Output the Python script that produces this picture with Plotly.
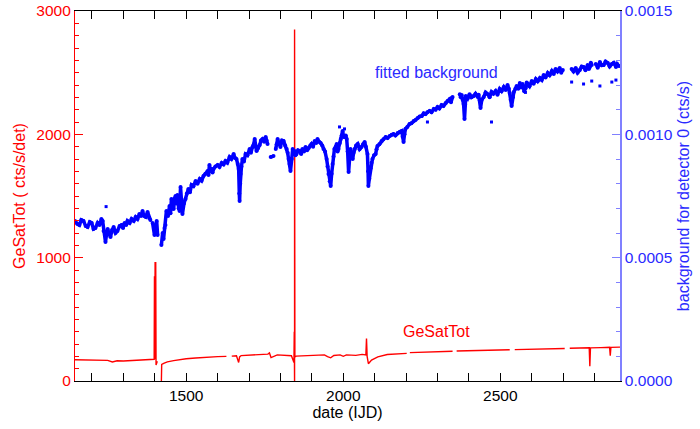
import plotly.graph_objects as go

# ---------------- data ----------------
# fitted background (right axis, cts/s): (date IJD, value); None marks a gap
bg_points = [
    (1146, .000649), (1153, .000637), (1160, .000632), (1166, .000653), (1173, .000649), (1180, .000628),
    (1186, .000624), (1193, .000645), (1199, .000641), (1205, .000616), (1211, .000620), (1218, .000641),
    (1224, .000632), (1230, .000657), (1234, .000649), (1237, .000608), (1243, .000564), (1247, .000600),
    (1250, .000616), (1255, .000596), (1259, .000584), (1264, .000612), (1269, .000624), (1275, .000600),
    (1281, .000608), (1288, .000628), (1294, .000632), (1299, .000620), (1304, .000641), (1309, .000632),
    (1313, .000649), (1320, .000641), (1326, .000657), (1333, .000649), (1339, .000665), (1345, .000657),
    (1351, .000677), (1356, .000669), (1361, .000689), (1366, .000669), (1371, .000665), (1377, .000685),
    (1382, .000661), (1386, .000653), None,
    (1393, .000641), (1399, .000592), (1406, .000649), (1409, .000592), None,
    (1421, .000551), (1425, .000600), (1428, .000576), (1431, .000620), (1434, .000632), (1437, .000689),
    (1442, .000669), (1447, .000709), (1450, .000680), (1453, .000738), (1457, .000700), (1460, .000697),
    (1463, .000740), (1466, .000750), (1469, .000720), (1472, .000754), (1476, .000700), (1479, .000689),
    (1482, .000786), (1485, .000720), (1488, .000677), (1493, .000720), (1498, .000738), (1502, .000760),
    (1507, .000778), (1512, .000765), (1517, .000795), (1523, .000790), (1530, .000811), (1536, .000800),
    (1543, .000819), (1549, .000812), (1555, .000831), (1561, .000840), (1568, .000851), (1571, .000835),
    (1574, .000876), (1578, .000850), (1581, .000859), (1584, .000845), (1587, .000859), (1593, .000870),
    (1600, .000876), (1606, .000868), (1613, .000884), (1619, .000878), (1625, .000892), (1631, .000885),
    (1638, .000908), (1644, .000900), (1651, .000920), (1655, .000905), (1660, .000900), (1664, .000880),
    (1667, .000859), (1669, .000760), (1670, .000730), (1672, .000800), (1673, .000839), (1676, .000870),
    (1679, .000900), (1684, .000890), (1689, .000920), (1695, .000915), (1702, .000941), (1706, .000925),
    (1711, .000949), (1715, .000960), (1718, .000981), (1721, .000950), (1724, .000932), (1729, .000945),
    (1734, .000957), (1738, .000975), (1743, .000981), (1748, .000970), (1753, .000989), (1756, .000975),
    (1759, .000961), None,
    (1769, .000908), (1778, .000912), None,
    (1785, .000941), (1788, .000960), (1791, .000981), (1795, .000965), (1800, .000949), (1805, .000975),
    (1810, .000973), (1815, .000955), (1820, .000941), (1823, .000925), (1826, .000900), (1829, .000880),
    (1832, .000851), (1836, .000900), (1839, .000941), (1842, .000925), (1845, .000932), (1848, .000915),
    (1851, .000920), (1856, .000935), (1861, .000932), (1866, .000920), (1870, .000941), (1875, .000930),
    (1880, .000949), (1885, .000935), (1890, .000945), (1895, .000955), (1899, .000961), (1904, .000950),
    (1909, .000973), (1914, .000965), (1918, .000981), (1923, .000970), (1928, .000965), (1933, .000955),
    (1937, .000941), (1942, .000930), (1947, .000900), (1950, .000870), (1953, .000839), (1957, .000810),
    (1960, .000791), (1963, .000840), (1966, .000880), (1969, .000910), (1972, .000941), (1976, .000950),
    (1979, .000961), (1982, .000930), (1985, .000941), (1989, .000965), (1992, .000981), (1995, .000995),
    (1998, .001014), (2001, .000990), (2004, .000989), (2008, .000995), (2011, .000981), (2014, .000930),
    (2017, .000847), (2020, .000900), (2023, .000941), (2027, .000915), (2030, .000900), (2033, .000925),
    (2036, .000941), (2041, .000955), (2046, .000961), (2052, .000940), (2058, .000949), (2063, .000960),
    (2068, .000969), (2072, .000950), (2077, .000920), (2079, .000850), (2080, .000791), (2083, .000820),
    (2087, .000863), (2090, .000885), (2093, .000900), (2098, .000915), (2103, .000920), (2106, .000940),
    (2109, .000953), (2115, .000960), (2122, .000973), (2128, .000980), (2135, .000989), (2141, .000985),
    (2148, .000993), (2154, .000998), (2160, .001001), (2166, .000995), (2173, .001005), (2180, .001010),
    (2186, .001014), (2189, .000990), (2192, .000969), (2195, .001000), (2198, .001022), (2204, .001030),
    (2211, .001042), (2217, .001045), (2224, .001054), (2230, .001058), (2237, .001066), (2243, .001072),
    (2250, .001074), (2256, .001085), (2262, .001082), (2268, .001090), (2275, .001095), (2281, .001090),
    (2288, .001103), (2294, .001100), (2300, .001111), (2306, .001105), (2313, .001119), (2319, .001115),
    (2326, .001127), (2332, .001135), (2339, .001143), (2343, .001130), (2348, .001151), None,
    (2371, .001163), (2374, .001150), (2377, .001159), (2380, .001140), (2383, .001123), (2386, .001062),
    (2388, .001120), (2390, .001155), (2396, .001145), (2402, .001163), (2408, .001150), (2415, .001155),
    (2421, .001165), (2428, .001151), (2431, .001160), (2434, .001139), (2437, .001107), (2441, .001140),
    (2447, .001151), (2453, .001170), (2460, .001163), (2466, .001150), (2472, .001172), (2478, .001165),
    (2485, .001176), (2491, .001160), (2498, .001184), (2504, .001175), (2511, .001192), (2517, .001180),
    (2523, .001200), (2527, .001185), (2530, .001168), (2533, .001140), (2536, .001115), (2540, .001150),
    (2543, .001172), (2548, .001185), (2552, .001196), (2557, .001185), (2562, .001208), (2566, .001190),
    (2571, .001204), (2576, .001175), (2581, .001188), (2584, .001210), (2587, .001204), (2593, .001195),
    (2600, .001216), (2606, .001205), (2613, .001224), (2619, .001215), (2626, .001228), (2632, .001220),
    (2638, .001241), (2644, .001230), (2651, .001249), (2657, .001240), (2664, .001257), (2670, .001245),
    (2676, .001265), (2682, .001255), (2689, .001269), (2694, .001250), (2699, .001261), None,
    (2727, .001265), (2733, .001255), (2740, .001269), (2746, .001250), (2753, .001261), (2759, .001275),
    (2765, .001273), (2771, .001260), (2778, .001281), (2782, .001265), (2785, .001273), (2788, .001290),
    (2791, .001281), None,
    (2804, .001285), (2810, .001270), (2817, .001293), (2823, .001280), (2829, .001281), (2835, .001295),
    (2842, .001289), (2848, .001275), (2855, .001285), (2861, .001290), (2868, .001273), (2872, .001285),
    (2877, .001277),
]

# isolated background points
bg_out_date = [1245, 1988, 2004, 2268, 2472, 2580, 2727, 2765, 2791, 2817, 2855, 2868]
bg_out_value = [0.000707, 0.001030, 0.001022, 0.001050, 0.001050, 0.001170, 0.001212, 0.001204,
                0.001216, 0.001196, 0.001212, 0.001220]

# GeSatTot (left axis, cts/s/det)
ge_date = [1146, 1170, 1200, 1215, 1230, 1250, 1265, 1280, 1300, 1330, 1360, 1390, 1396,
           1398, 1399, 1400, 1401, 1403, 1404, 1408, None,
           1421, 1422, 1430, 1440, 1460, 1480, 1500, 1530, 1560, 1600, 1628, None,
           1645, 1660, 1667, 1670, 1675, 1700, 1730, 1760, 1765, 1770, 1790, 1820, 1835,
           1843, 1844, 1845, 1845, 1846, 1850, 1880, 1910, 1940, 1950, 1960, 1970, 1990,
           2000, 2010, 2040, 2060, 2072, 2074, 2076, 2080, 2090, 2110, 2140, 2170, 2202, None,
           2212, 2260, 2300, 2348, None,
           2361, 2400, 2450, 2500, 2530, None,
           2546, 2600, 2650, 2705, None,
           2721, 2760, 2783, 2785, 2787, 2820, 2848, 2850, 2852, 2881]
ge_value = [172, 170, 169, 164, 167, 167, 154, 164, 162, 166, 169, 174, 176,
            176, 850, 176, 960, 960, 130, 160, None,
            0, 135, 145, 155, 165, 175, 180, 186, 193, 198, 200, None,
            202, 204, 150, 195, 206, 208, 215, 218, 228, 190, 212, 210, 205,
            150, 400, 0, 2850, 195, 202, 204, 207, 212, 198, 188, 207, 212,
            200, 212, 208, 216, 212, 345, 200, 140, 170, 196, 215, 220, 224, None,
            230, 234, 238, 241, None,
            243, 245, 248, 251, 253, None,
            254, 258, 261, 264, None,
            266, 268, 269, 120, 269, 271, 273, 205, 273, 275]

x_range = [1146, 2881]
y_left_range = [0, 3000]
y_right_range = [0, 0.0015]
x_ticks = [1500, 2000, 2500]
y_left_ticks = [0, 1000, 2000, 3000]
y_right_ticks = [0.0, 0.0005, 0.0010, 0.0015]

bg_date = [p[0] if p else None for p in bg_points]
bg_value = [p[1] if p else None for p in bg_points]

RED = "#ff0000"
BLUE = "#0000ff"
BLUE_TXT = "#2a2aff"
BLUE_AX = "#8080ff"
FONT = "Liberation Sans, Arial, sans-serif"
TICK_SIZE = 15.5
TITLE_SIZE = 16

fig = go.Figure()
fig.add_trace(go.Scatter(x=ge_date, y=ge_value, mode="lines",
                         line=dict(color=RED, width=1.4), yaxis="y", showlegend=False,
                         connectgaps=False))
fig.add_trace(go.Scatter(x=bg_date, y=bg_value, mode="lines+markers",
                         line=dict(color=BLUE, width=3.5), marker=dict(color=BLUE, size=4),
                         yaxis="y2", showlegend=False, connectgaps=False))
fig.add_trace(go.Scatter(x=bg_out_date, y=bg_out_value, mode="markers",
                         marker=dict(color=BLUE, size=3, symbol="square"),
                         yaxis="y2", showlegend=False))

fig.add_annotation(x=2297, y=2500, xref="x", yref="y", text="fitted background",
                   showarrow=False, font=dict(color=BLUE_TXT, size=16, family=FONT))
fig.add_annotation(x=2297, y=405, xref="x", yref="y", text="GeSatTot",
                   showarrow=False, font=dict(color=RED, size=16, family=FONT))

fig.update_layout(
    width=700, height=429,
    margin=dict(l=75, r=80, t=11, b=48),
    paper_bgcolor="white", plot_bgcolor="white",
    font=dict(family=FONT, size=14),
    xaxis=dict(range=x_range, tickvals=x_ticks, ticks="inside", ticklen=8, tickwidth=1,
               tickcolor="black", showline=True, linecolor="black", linewidth=1,
               mirror="allticks", showgrid=False, zeroline=False, automargin=False,
               tickfont=dict(color="black", size=TICK_SIZE),
               title=dict(text="date (IJD)", font=dict(color="black", size=TITLE_SIZE), standoff=3),
               minor=dict(dtick=100, tick0=1000, ticks="inside", ticklen=4, tickcolor="black",
                          showgrid=False)),
    yaxis=dict(range=y_left_range, tickvals=y_left_ticks, ticks="inside", ticklen=8,
               tickcolor=RED, showline=True, linecolor=RED, linewidth=1.2, automargin=False,
               showgrid=False, zeroline=False, tickfont=dict(color=RED, size=TICK_SIZE),
               title=dict(text="GeSatTot ( cts/s/det)", font=dict(color=RED, size=TITLE_SIZE),
                          standoff=6),
               minor=dict(dtick=100, ticks="inside", ticklen=4, tickcolor=RED, showgrid=False)),
    yaxis2=dict(range=y_right_range, tickvals=y_right_ticks, tickformat=".4f",
                overlaying="y", side="right", ticks="inside", ticklen=8, automargin=False,
                tickcolor=BLUE_AX, showline=True, linecolor=BLUE_AX, linewidth=1.5,
                showgrid=False, zeroline=False, tickfont=dict(color=BLUE_TXT, size=TICK_SIZE),
                title=dict(text="background for detector 0 (cts/s)",
                           font=dict(color=BLUE_TXT, size=TITLE_SIZE), standoff=6),
                minor=dict(dtick=0.0001, ticks="inside", ticklen=4, tickcolor=BLUE_AX,
                           showgrid=False)),
)

fig.write_html("out.html")
